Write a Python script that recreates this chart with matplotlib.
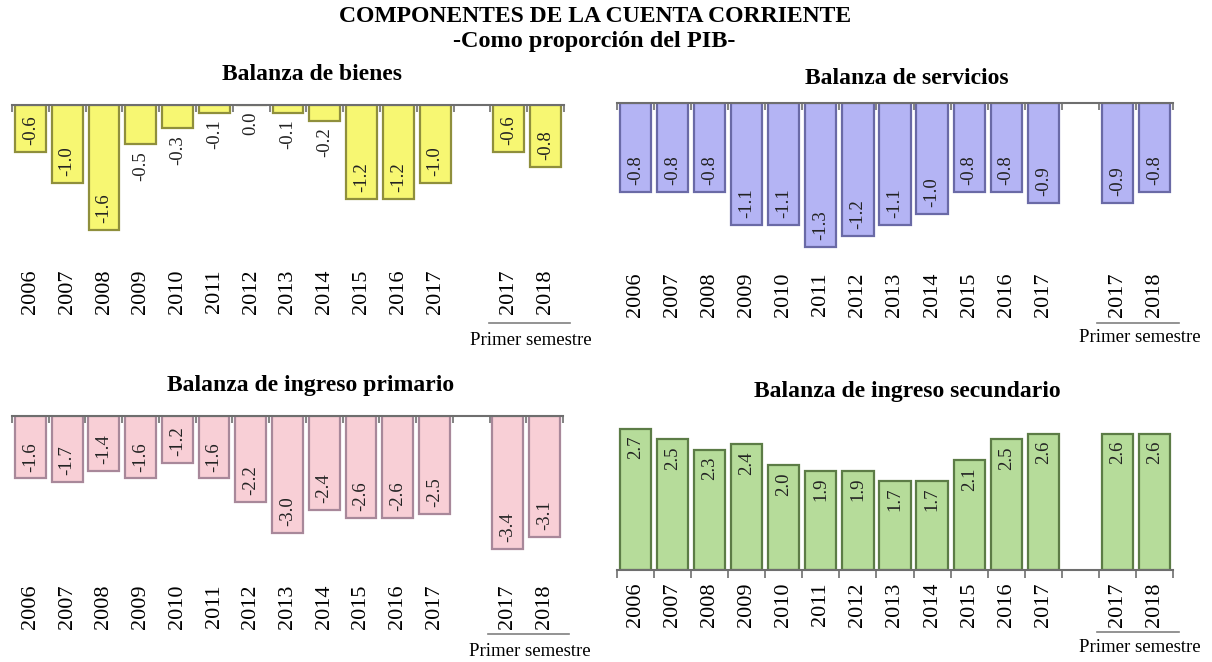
import matplotlib
matplotlib.use('Agg')
import matplotlib.pyplot as plt
from matplotlib.transforms import blended_transform_factory

plt.rcParams['font.family'] = ['Liberation Serif', 'DejaVu Serif']

years = ['2006', '2007', '2008', '2009', '2010', '2011', '2012',
         '2013', '2014', '2015', '2016', '2017']
sem_years = ['2017', '2018']

bienes = [-0.6, -1.0, -1.6, -0.5, -0.3, -0.1, 0.0, -0.1, -0.2, -1.2, -1.2, -1.0]
bienes_sem = [-0.6, -0.8]
servicios = [-0.8, -0.8, -0.8, -1.1, -1.1, -1.3, -1.2, -1.1, -1.0, -0.8, -0.8, -0.9]
servicios_sem = [-0.9, -0.8]
primario = [-1.6, -1.7, -1.4, -1.6, -1.2, -1.6, -2.2, -3.0, -2.4, -2.6, -2.6, -2.5]
primario_sem = [-3.4, -3.1]
secundario = [2.7, 2.5, 2.3, 2.4, 2.0, 1.9, 1.9, 1.7, 1.7, 2.1, 2.5, 2.6]
secundario_sem = [2.6, 2.6]

W, H = 1212, 662
fig = plt.figure(figsize=(W / 100, H / 100), dpi=100)


def px_axes(x0, x1, ytop, ybot):
    return fig.add_axes([x0 / W, 1 - ybot / H, (x1 - x0) / W, (ybot - ytop) / H])


def draw_panel(ax, vals, sem_vals, ylim, fill, edge, title, title_xy,
               label_pad, px_per_unit, line_y, text_y):
    xs = list(range(len(vals))) + [len(vals) + 1 + i for i in range(len(sem_vals))]
    allv = list(vals) + list(sem_vals)
    labels = list(years) + list(sem_years)
    ax.bar(xs, allv, width=0.84, color=fill, edgecolor=edge, linewidth=1.6, zorder=2)
    ax.set_xlim(-0.5, 14.5)
    ax.set_ylim(*ylim)
    neg = ylim[1] == 0

    for x, v in zip(xs, allv):
        txt = f'{v:.1f}'
        length = abs(v) * px_per_unit
        if neg and length > 43:
            # inside the bar, near its end
            ax.annotate(txt, (x, v), xytext=(0, 5), textcoords='offset points',
                        rotation=90, ha='center', va='bottom', fontsize=13.5,
                        color='#222222', zorder=3)
        else:
            ax.annotate(txt, (x, v), xytext=(0, -5), textcoords='offset points',
                        rotation=90, ha='center', va='top', fontsize=13.5,
                        color='#222222', zorder=3)

    for s in ax.spines.values():
        s.set_visible(False)
    spine = 'top' if neg else 'bottom'
    ax.spines[spine].set_visible(True)
    ax.spines[spine].set_color('#6e6e6e')
    ax.spines[spine].set_linewidth(1.5)

    ax.set_xticks(xs)
    ax.set_xticklabels(labels, rotation=90, fontsize=16)
    ax.set_xticks([i - 0.5 for i in range(16)], minor=True)
    ax.set_yticks([])
    ax.tick_params(axis='x', which='major', length=0, pad=label_pad,
                   bottom=True, top=False, labelbottom=True)
    if neg:
        ax.tick_params(axis='x', which='minor', top=True, bottom=False,
                       direction='in', length=5, width=1.2, color='#6e6e6e')
    else:
        ax.tick_params(axis='x', which='minor', top=False, bottom=True,
                       direction='out', length=6, width=1.2, color='#6e6e6e')

    tr = blended_transform_factory(ax.transData, fig.transFigure)
    ax.plot([12.45, 14.65], [1 - line_y / H] * 2, color='#808080', lw=1.2,
            transform=tr, clip_on=False)
    ax.text(13.6, 1 - text_y / H, 'Primer semestre', transform=tr,
            ha='center', va='center', fontsize=13.5)

    fig.text(title_xy[0] / W, 1 - title_xy[1] / H, title, ha='center', va='center',
             fontsize=17, fontweight='bold')


ax1 = px_axes(12, 564, 105, 265)
draw_panel(ax1, bienes, bienes_sem, (-2.05, 0), '#f7f772', '#8f8f3c',
           'Balanza de bienes', (312, 75), 3.5, 78.1, 323, 340)

ax2 = px_axes(617, 1173, 103, 269)
draw_panel(ax2, servicios, servicios_sem, (-1.5, 0), '#b4b4f4', '#6a6aa6',
           'Balanza de servicios', (907, 78), 2.5, 110.8, 323, 338)

ax3 = px_axes(12, 563, 416, 580)
draw_panel(ax3, primario, primario_sem, (-4.2, 0), '#f8cfd6', '#a8889a',
           'Balanza de ingreso primario', (311, 386), 3.5, 39.0, 634, 651)

ax4 = px_axes(617, 1173, 413, 570)
draw_panel(ax4, secundario, secundario_sem, (0, 3.0), '#b6dc9a', '#5c7c46',
           'Balanza de ingreso secundario', (907, 391), 9, 52.2, 632, 648)

fig.text(595 / W, 1 - 17 / H, 'COMPONENTES DE LA CUENTA CORRIENTE',
         ha='center', va='center', fontsize=17, fontweight='bold')
fig.text(594 / W, 1 - 41 / H, '-Como proporción del PIB-',
         ha='center', va='center', fontsize=17.5, fontweight='bold')

fig.savefig('out.png', dpi=100)
